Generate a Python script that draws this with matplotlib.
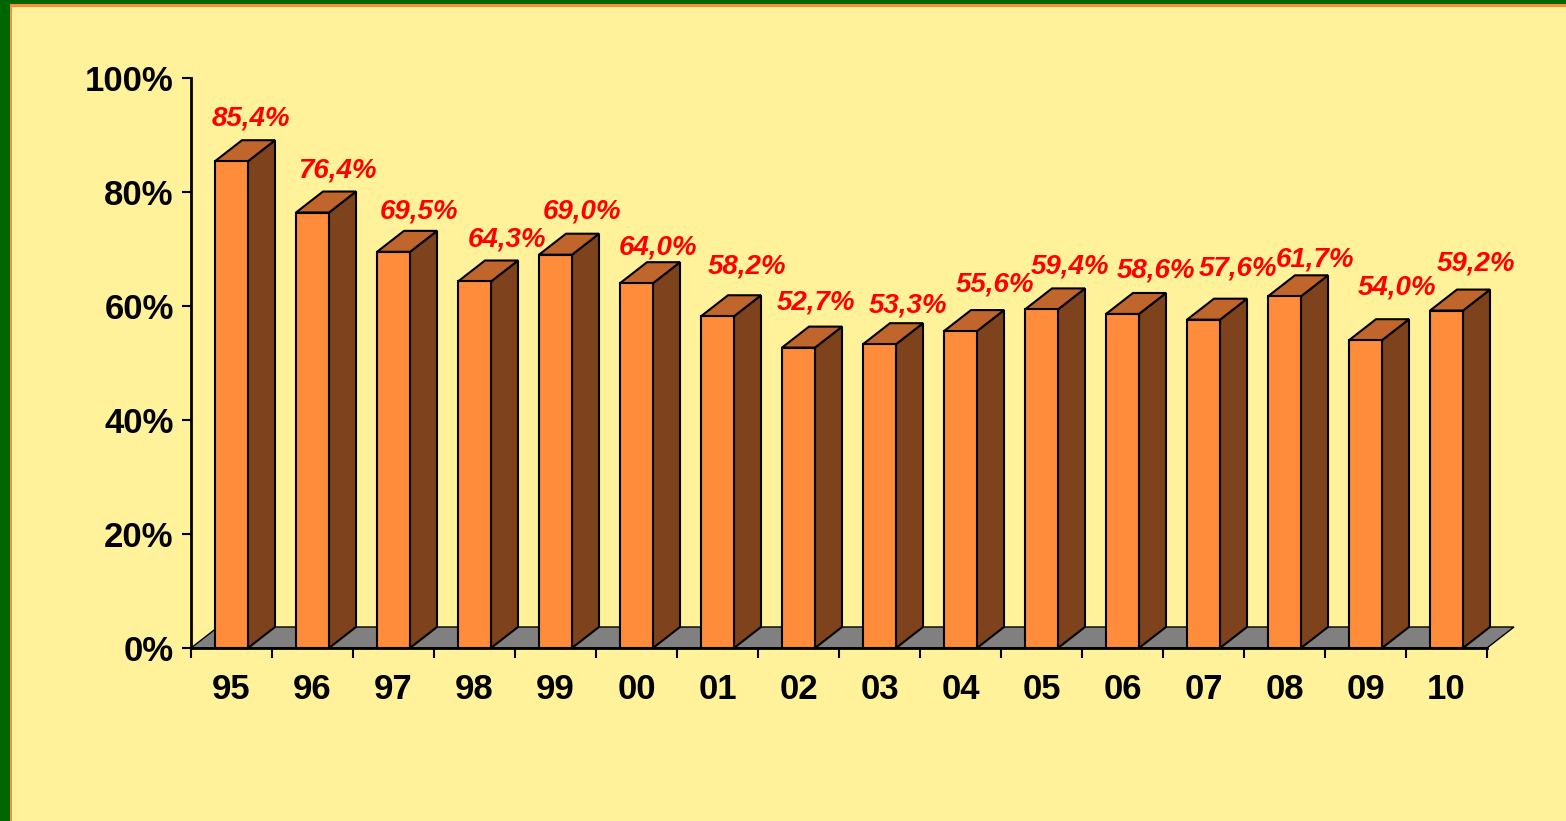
import numpy as np
import matplotlib.pyplot as plt
from matplotlib.patches import Polygon, Rectangle

# data
years = ["95", "96", "97", "98", "99", "00", "01", "02", "03", "04", "05", "06", "07", "08", "09", "10"]
values = [85.4, 76.4, 69.5, 64.3, 69.0, 64.0, 58.2, 52.7, 53.3, 55.6, 59.4, 58.6, 57.6, 61.7, 54.0, 59.2]
y_ticks = [0, 20, 40, 60, 80, 100]

# label nudges in pixels (x right, y up)
label_nudge = [(6, 1), (11, 0), (12, -2), (19, 0), (13, 1), (8, -6), (16, 8), (4, 3),
               (15, -3), (21, 5), (15, 1), (20, 1), (21, 9), (17, -5), (18, 11), (16, 5)]

# colours
GREEN = "#006600"
ORANGE_LINE = "#FF8C38"
BG = "#FFF29A"
FRONT = "#FF8C3A"
SIDE = "#7E421D"
TOP = "#C0652C"
FLOOR = "#808080"

W, H = 1566, 821
fig = plt.figure(figsize=(W / 100, H / 100), dpi=100, facecolor=GREEN)
fig.patches.append(Rectangle((10 / W, 0), 1, (H - 4) / H, transform=fig.transFigure,
                             facecolor=ORANGE_LINE, edgecolor="none", zorder=-2))
fig.patches.append(Rectangle((12 / W, 0), 1, (H - 7) / H, transform=fig.transFigure,
                             facecolor=BG, edgecolor="none", zorder=-1))

# axes in pixel terms: x 191..1487, y 78..648
ax = fig.add_axes([191 / W, (H - 648) / H, 1296 / W, 570 / H])
ax.set_facecolor("none")
n = len(values)
ax.set_xlim(0, n)
ax.set_ylim(0, 100)

px_x = n / 1296.0       # data units per pixel
px_y = 100 / 570.0
DX = 27 * px_x          # depth offset
DY = 21 * px_y
BW = 33 * px_x          # front width

# floor
floor = Polygon([(0, 0), (n, 0), (n + DX, DY), (DX, DY)], closed=True,
                facecolor=FLOOR, edgecolor="black", linewidth=1.0, clip_on=False, zorder=1)
ax.add_patch(floor)

for i, v in enumerate(values):
    x0 = i + 0.5 - BW / 2
    x1 = x0 + BW
    front = Polygon([(x0, 0), (x1, 0), (x1, v), (x0, v)], closed=True)
    side = Polygon([(x1, 0), (x1 + DX, DY), (x1 + DX, v + DY), (x1, v)], closed=True)
    top = Polygon([(x0, v), (x1, v), (x1 + DX, v + DY), (x0 + DX, v + DY)], closed=True)
    for p, c in ((side, SIDE), (top, TOP), (front, FRONT)):
        p.set_facecolor(c)
        p.set_edgecolor("black")
        p.set_linewidth(1.5)
        p.set_clip_on(False)
        p.set_zorder(3)
        ax.add_patch(p)

    nx, ny = label_nudge[i]
    ax.annotate(f"{v:.1f}%".replace(".", ","), xy=(i + 0.5 + DX / 2, v + DY),
                xytext=(nx * 0.72, (14 + ny) * 0.72), textcoords="offset points",
                ha="center", va="baseline", color="red", fontsize=20,
                fontweight="bold", fontstyle="italic", family="Liberation Sans",
                annotation_clip=False, zorder=5)

# axes styling
for s in ("top", "right"):
    ax.spines[s].set_visible(False)
for s in ("left", "bottom"):
    ax.spines[s].set_linewidth(2)
    ax.spines[s].set_zorder(4)

ax.set_yticks(y_ticks)
ax.set_yticklabels([f"{t}%" for t in y_ticks])
ax.tick_params(axis="y", length=6.5, width=1.5, pad=6, labelsize=25)

ax.set_xticks(np.arange(n + 1))
ax.set_xticklabels([])
ax.set_xticks(np.arange(n) + 0.5, minor=True)
ax.set_xticklabels(years, minor=True)
ax.tick_params(axis="x", which="major", length=7, width=1.5)
ax.tick_params(axis="x", which="minor", length=0, pad=18, labelsize=25)

for lab in ax.get_yticklabels() + ax.get_xticklabels(minor=True):
    lab.set_fontweight("bold")
    lab.set_family("Liberation Sans")

fig.savefig("out.png", dpi=100, facecolor=fig.get_facecolor())
